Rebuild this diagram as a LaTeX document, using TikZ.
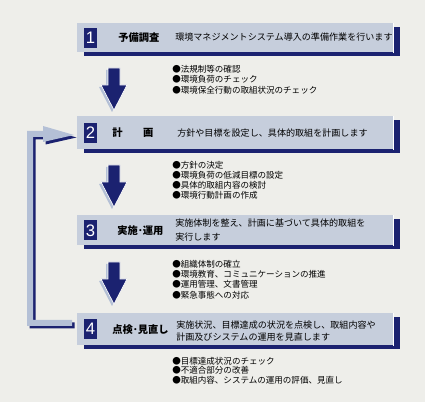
\documentclass[tikz,border=0pt]{standalone}
\usepackage{fontspec}
\setmainfont{Liberation Sans}
\newfontfamily\jp{Noto Sans CJK JP}
\usetikzlibrary{shadows,calc}
\definecolor{navy}{HTML}{1B2270}
\definecolor{bandfill}{HTML}{C6CEDC}
\definecolor{paper}{HTML}{EEEEEA}
\definecolor{loopc}{HTML}{B4C0D6}
\begin{document}
\begin{tikzpicture}[x=0.75pt,y=-0.75pt,
  band/.style={fill=bandfill, inner sep=0, anchor=north west, minimum width=237pt,
    drop shadow={shadow xshift=5pt, shadow yshift=-3pt, fill=navy, opacity=1}},
  numbox/.style={fill=navy, text=white, inner sep=0, minimum width=9.75pt, minimum height=15pt,
    font=\fontsize{12.5}{12.5}\selectfont},
  title/.style={anchor=west, inner sep=0, font=\jp\bfseries\fontsize{7.7}{8}\selectfont},
  desc/.style={anchor=west, inner sep=0, align=left},
  bul/.style={anchor=west, inner sep=0, font=\jp\fontsize{6.4}{7}\selectfont},
  arrowshadow/.style={fill=loopc},
  arrowbody/.style={fill=navy, draw=white, line width=0.5pt},
]
\fill[paper] (0,0) rectangle (425,402);
\useasboundingbox (0,0) rectangle (425,402);

% bands
\node[band, minimum height=21.75pt] (b1) at (77,23) {};
\node[band, minimum height=24.75pt] (b2) at (77,116) {};
\node[band, minimum height=22.5pt] (b3) at (77,215) {};
\node[band, minimum height=24pt] (b4) at (77,313) {};
\foreach \b in {b1,b2,b3,b4}
  \draw[white, line width=1.2pt] (\b.north east) -- (\b.south east);

% number boxes
\node[numbox] (n1) at ([xshift=10.125pt]b1.west) {1};
\node[numbox] (n2) at ([xshift=10.125pt]b2.west) {2};
\node[numbox] (n3) at ([xshift=10.125pt]b3.west) {3};
\node[numbox] (n4) at ([xshift=10.125pt]b4.west) {4};

% titles
\node[title] (t1) at ([xshift=30.75pt]b1.west) {予備調査};
\node[title] (t2) at ([xshift=26.25pt]b2.west) {計　　画};
\node[title] (t3) at ([xshift=30pt]b3.west) {実施･運用};
\node[title] (t4) at ([xshift=26.25pt]b4.west) {点検･見直し};

% descriptions
\node[desc, font=\jp\fontsize{6.8}{10}\selectfont] (d1) at (175,37) {環境マネジメントシステム導入の準備作業を行います};
\node[desc, font=\jp\fontsize{6.8}{10}\selectfont] (d2) at (177,133) {方針や目標を設定し、具体的取組を計画します};
\node[desc, font=\jp\fontsize{6.8}{10.5}\selectfont] (d3) at (175,230) {実施体制を整え、計画に基づいて具体的取組を\\実行します};
\node[desc, font=\jp\fontsize{6.8}{9}\selectfont] (d4) at (176,331) {実施状況、目標達成の状況を点検し、取組内容や\\計画及びシステムの運用を見直します};

% bullet lists
\foreach \t [count=\i] in {法規制等の確認,環境負荷のチェック,環境保全行動の取組状況のチェック}
  \node[bul] (g1l\i) at (172,{69+10.5*(\i-1)}) {●\t};
\foreach \t [count=\i] in {方針の決定,環境負荷の低減目標の設定,具体的取組内容の検討,環境行動計画の作成}
  \node[bul] (g2l\i) at (172,{165+10*(\i-1)}) {●\t};
\foreach \t [count=\i] in {組織体制の確立,環境教育、コミュニケーションの推進,運用管理、文書管理,緊急事態への対応}
  \node[bul] (g3l\i) at (172,{264+10.3*(\i-1)}) {●\t};
\foreach \t [count=\i] in {目標達成状況のチェック,不適合部分の改善,取組内容、システムの運用の評価、見直し}
  \node[bul] (g4l\i) at (172,{361+9.7*(\i-1)}) {●\t};

% down block arrows
\foreach \ya in {68,165,262}{
  \begin{scope}[shift={(114,\ya)}]
    \fill[arrowshadow] (-8,2) -- (4,2) -- (4,19) -- (11,19) -- (-2,44) -- (-15,19) -- (-8,19) -- cycle;
    \filldraw[arrowbody] (-6,0) -- (6,0) -- (6,17) -- (13,17) -- (0,42) -- (-13,17) -- (-6,17) -- cycle;
  \end{scope}
}

% feedback loop from step 4 back to step 2
\fill[navy] (74.5,322.5) -- (35.5,322.5) -- (35.5,139.5) -- (45.5,139.5) -- (45.5,144.5) -- (76.5,137.5) -- (45.5,128.5) -- (45.5,133.5) -- (29.5,133.5) -- (29.5,328.5) -- (74.5,328.5) -- cycle;
\fill[loopc] (72,320) -- (33,320) -- (33,137) -- (43,137) -- (43,142) -- (74,135) -- (43,126) -- (43,131) -- (27,131) -- (27,326) -- (72,326) -- cycle;
\end{tikzpicture}
\end{document}
